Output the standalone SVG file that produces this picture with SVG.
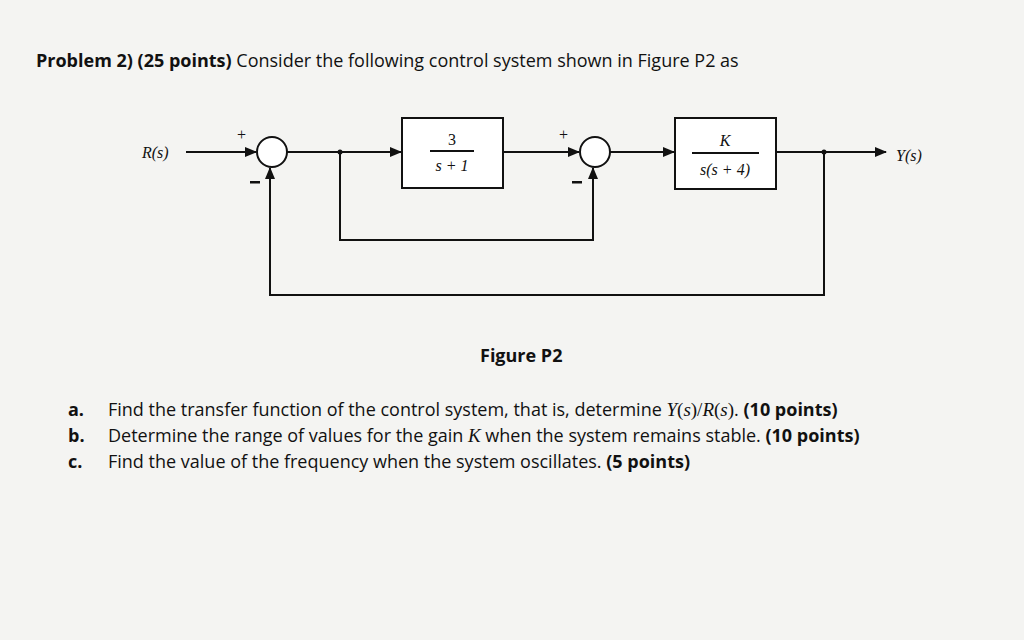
<svg xmlns="http://www.w3.org/2000/svg" width="1024" height="640" viewBox="0 0 1024 640">
<defs>
<marker id="ah" markerWidth="12" markerHeight="10" refX="11" refY="5" orient="auto" markerUnits="userSpaceOnUse"><path d="M0,0 L12,5 L0,10 Z" fill="#111"/></marker>
<style>
.t{font-family:"Open Sans","Liberation Sans",sans-serif;font-size:18px;fill:#111}
.b{font-weight:bold}
.m{font-family:"Liberation Serif",serif;font-size:16px;fill:#111}
.w{stroke:#111;stroke-width:2;fill:none}
.n{stroke:#111;stroke-width:2;fill:#fff}
</style>
</defs>
<rect width="1024" height="640" fill="#f4f4f2"/>
<text class="t" x="36" y="67"><tspan class="b">Problem 2) (25 points)</tspan> Consider the following control system shown in Figure P2 as</text>
<g id="connectors">
<path class="w" d="M186,152 H256" marker-end="url(#ah)"/>
<path class="w" d="M287,152 H401" marker-end="url(#ah)"/>
<path class="w" d="M503,152 H579" marker-end="url(#ah)"/>
<path class="w" d="M610,152 H674" marker-end="url(#ah)"/>
<path class="w" d="M776,152 H886" marker-end="url(#ah)"/>
<path class="w" d="M340,152 V240 H593 V168" marker-end="url(#ah)"/>
<path class="w" d="M824,152 V295 H270 V168" marker-end="url(#ah)"/>
<circle cx="340" cy="152" r="2.5" fill="#111"/>
<circle cx="824" cy="152" r="2.5" fill="#111"/>
</g>
<g id="sum1"><circle class="n" cx="272" cy="152" r="15"/><text class="m" x="237" y="140">+</text><rect x="250" y="181" width="10" height="2.5" fill="#111"/></g>
<g id="sum2"><circle class="n" cx="595" cy="152" r="15"/><text class="m" x="559" y="140">+</text><rect x="572" y="181" width="10" height="2.5" fill="#111"/></g>
<g id="G1"><rect class="n" x="402" y="118" width="101" height="70"/><text class="m" x="452" y="145" text-anchor="middle">3</text><line class="w" x1="430" y1="151" x2="474" y2="151" stroke-width="1.2"/><text class="m" x="452" y="171" text-anchor="middle" font-style="italic">s + 1</text></g>
<g id="G2"><rect class="n" x="675" y="118" width="101" height="71"/><text class="m" x="725" y="146" text-anchor="middle" font-style="italic">K</text><line class="w" x1="692" y1="153" x2="759" y2="153" stroke-width="1.2"/><text class="m" x="725" y="175" text-anchor="middle" font-style="italic">s(s + 4)</text></g>
<text class="m" x="142" y="158" font-style="italic">R(s)</text>
<text class="m" x="896" y="161" font-style="italic">Y(s)</text>
<text class="t b" x="480" y="362">Figure P2</text>
<text class="t b" x="68" y="416">a.</text>
<text class="t" x="108" y="416">Find the transfer function of the control system, that is, determine <tspan font-family="Liberation Serif" font-style="italic" font-size="19">Y</tspan><tspan font-family="Liberation Serif" font-size="19">(</tspan><tspan font-family="Liberation Serif" font-style="italic" font-size="19">s</tspan><tspan font-family="Liberation Serif" font-size="19">)/</tspan><tspan font-family="Liberation Serif" font-style="italic" font-size="19">R</tspan><tspan font-family="Liberation Serif" font-size="19">(</tspan><tspan font-family="Liberation Serif" font-style="italic" font-size="19">s</tspan><tspan font-family="Liberation Serif" font-size="19">)</tspan>. <tspan class="b">(10 points)</tspan></text>
<text class="t b" x="68" y="442">b.</text>
<text class="t" x="108" y="442">Determine the range of values for the gain <tspan font-family="Liberation Serif" font-style="italic" font-size="19">K</tspan> when the system remains stable. <tspan class="b">(10 points)</tspan></text>
<text class="t b" x="68" y="468">c.</text>
<text class="t" x="108" y="468">Find the value of the frequency when the system oscillates. <tspan class="b">(5 points)</tspan></text>
</svg>
